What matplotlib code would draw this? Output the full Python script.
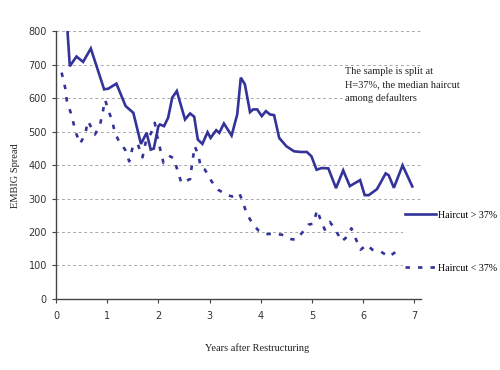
import matplotlib
matplotlib.use("Agg")
import matplotlib.pyplot as plt

# Haircut > 37%
years_high = [0.22, 0.27, 0.40, 0.53, 0.68, 0.94, 1.02, 1.18, 1.36, 1.51, 1.66, 1.77, 1.85, 1.91,
              2.00, 2.03, 2.11, 2.19, 2.27, 2.36, 2.52, 2.62, 2.70, 2.77, 2.86, 2.96, 3.02, 3.13,
              3.19, 3.28, 3.43, 3.54, 3.61, 3.69, 3.79, 3.85, 3.93, 4.02, 4.10, 4.18, 4.26, 4.36,
              4.50, 4.65, 4.77, 4.90, 4.99, 5.09, 5.19, 5.32, 5.47, 5.61, 5.74, 5.94, 6.03, 6.11,
              6.27, 6.44, 6.50, 6.60, 6.77, 6.96]
spread_high = [810, 695, 724, 708, 748, 626, 628, 643, 576, 556, 463, 496, 446, 449,
               516, 521, 516, 541, 601, 621, 536, 554, 544, 476, 463, 498, 481, 504,
               496, 524, 488, 551, 661, 641, 558, 566, 566, 546, 561, 551, 549, 481,
               456, 441, 439, 439, 426, 386, 391, 390, 331, 384, 337, 355, 310, 310,
               328, 375, 369, 332, 399, 336]

# Haircut < 37%
years_low = [0.11, 0.18, 0.21, 0.29, 0.34, 0.39, 0.47, 0.57, 0.62, 0.66, 0.76, 0.86, 0.91, 0.96,
             1.04, 1.10, 1.15, 1.23, 1.35, 1.43, 1.51, 1.60, 1.69, 1.77, 1.85, 1.93, 1.97, 2.03,
             2.10, 2.23, 2.30, 2.39, 2.45, 2.62, 2.66, 2.71, 2.78, 2.83, 2.91, 3.04, 3.17, 3.33,
             3.44, 3.58, 3.66, 3.72, 3.82, 3.95, 4.08, 4.24, 4.41, 4.57, 4.69, 4.82, 4.93, 5.03,
             5.10, 5.16, 5.25, 5.35, 5.47, 5.58, 5.68, 5.77, 5.86, 5.95, 6.07, 6.18, 6.34, 6.50,
             6.65, 6.70]
spread_low = [676, 630, 593, 555, 526, 496, 464, 491, 531, 521, 491, 520, 556, 594,
              556, 531, 496, 471, 446, 411, 461, 461, 423, 481, 493, 526, 491, 451,
              406, 426, 420, 376, 346, 358, 406, 456, 431, 391, 386, 351, 326, 311,
              306, 316, 286, 256, 230, 205, 194, 194, 192, 179, 177, 200, 222, 225,
              266, 240, 207, 230, 204, 172, 185, 211, 178, 147, 162, 147, 142, 126,
              142, 149]

plt.rcParams['lines.scale_dashes'] = False
line_col = '#333399'
serif = ['Liberation Serif', 'DejaVu Serif']

fig = plt.figure(figsize=(5, 3.7), dpi=100)
ax = fig.add_axes([0.112, 0.192, 0.730, 0.724])

ax.plot(years_high, spread_high, color=line_col, lw=1.9, solid_joinstyle='miter',
        label='Haircut > 37%')
ax.plot(years_low, spread_low, color=line_col, lw=1.9, dashes=[3.2, 5.8],
        dash_capstyle='butt', label='Haircut < 37%')

ax.set_xlim(0, 7.13)
ax.set_ylim(0, 800)
ax.set_xticks(range(0, 8))
ax.set_yticks(range(0, 801, 100))
ax.yaxis.grid(True, color='#999999', lw=0.6, dashes=[2, 2])
ax.set_axisbelow(True)
for s in ['top', 'right']:
    ax.spines[s].set_visible(False)
for s in ['left', 'bottom']:
    ax.spines[s].set_color('#444444')
    ax.spines[s].set_linewidth(1.0)
ax.tick_params(axis='both', direction='out', length=3, width=0.8, colors='#444444',
               labelsize=7, labelcolor='#333333')
ax.tick_params(axis='x', pad=6)

fig.text(0.03, 0.525, 'EMBIG Spread', rotation=90, ha='center', va='center',
         fontsize=7.5, family=serif, color='#222222')
fig.text(0.514, 0.06, 'Years after Restructuring', ha='center', va='center',
         fontsize=7.5, family=serif, color='#222222')

fig.text(0.69, 0.818, 'The sample is split at\nH=37%, the median haircut\namong defaulters',
         ha='left', va='top', fontsize=7.5, family=serif, color='#222222', linespacing=1.55,
         bbox=dict(facecolor='white', edgecolor='none', pad=1))

leg = fig.legend(loc='upper left', bbox_to_anchor=(0.806, 0.436), frameon=True,
                 prop={'family': serif, 'size': 7.2}, handlelength=3.1, handletextpad=0.15,
                 labelspacing=4.4, borderpad=0.2, borderaxespad=0)
leg.get_frame().set_facecolor('white')
leg.get_frame().set_edgecolor('none')
leg.get_frame().set_alpha(1)

fig.savefig('out.png', dpi=100)
